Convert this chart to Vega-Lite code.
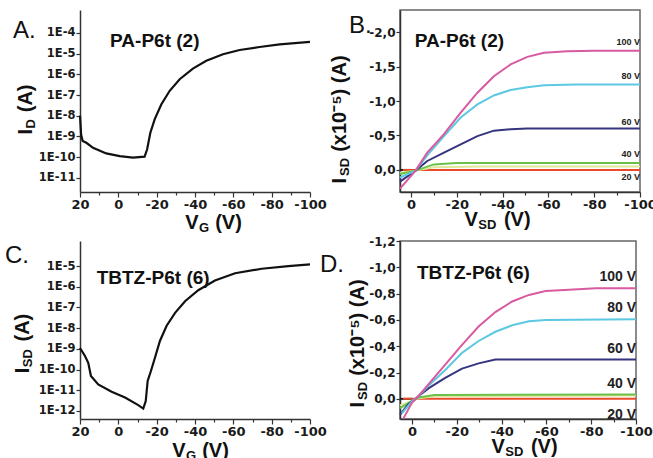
{
 "$schema": "https://vega.github.io/schema/vega-lite/v6.json",
 "background": "white",
 "padding": {"left": 5, "top": 9, "right": 0, "bottom": 0},
 "columns": 2,
 "spacing": {"row": 49, "column": 90},
 "bounds": "flush",
 "align": "each",
 "config": {
  "view": {"stroke": "#666", "strokeWidth": 1.5},
  "axis": {"domainColor": "#333", "domainWidth": 1.5, "tickColor": "#333", "tickWidth": 1.2, "labelFont": "DejaVu Sans", "labelFontWeight": "bold", "labelColor": "#1a1a1a", "labelPadding": 1, "labelFlush": false, "titleFont": "Liberation Sans", "titleFontWeight": "bold", "titleFontSize": 20, "titleColor": "#111", "grid": false, "labelOverlap": false},
  "title": {"font": "Liberation Sans", "fontWeight": "normal", "fontSize": 24, "color": "#111"}
 },
 "datasets": {
  "a": [{"V":20,"I":1.0e-8},{"V":19.4,"I":1.2e-9},{"V":18.6,"I":6.0e-10},{"V":16.7,"I":4.9e-10},{"V":13.2,"I":2.8e-10},{"V":6.3,"I":1.5e-10},{"V":-0.7,"I":1.1e-10},{"V":-7.6,"I":9.3e-11},{"V":-13.7,"I":1.05e-10},{"V":-15,"I":2.3e-10},{"V":-16.7,"I":1.5e-9},{"V":-19,"I":6.8e-9},{"V":-22.4,"I":3.5e-8},{"V":-26.8,"I":1.6e-7},{"V":-32,"I":5.8e-7},{"V":-38.9,"I":1.9e-6},{"V":-45.9,"I":4.5e-6},{"V":-54.6,"I":9.3e-6},{"V":-63.3,"I":1.5e-5},{"V":-73.7,"I":2.1e-5},{"V":-84.2,"I":2.8e-5},{"V":-100,"I":3.7e-5}],
  "c": [{"V":20,"I":1.1e-9},{"V":17.4,"I":4.5e-10},{"V":15.7,"I":2.1e-10},{"V":14.3,"I":4.9e-11},{"V":10.5,"I":1.9e-11},{"V":3.5,"I":8.5e-12},{"V":-3.5,"I":4.4e-12},{"V":-10.4,"I":1.9e-12},{"V":-13,"I":1.3e-12},{"V":-14.3,"I":3.0e-12},{"V":-15.3,"I":2.8e-11},{"V":-17,"I":8.5e-11},{"V":-19.1,"I":3.7e-10},{"V":-21.7,"I":2.4e-9},{"V":-25.2,"I":1.3e-8},{"V":-29.6,"I":5.5e-8},{"V":-34.8,"I":2.0e-7},{"V":-41.7,"I":6.8e-7},{"V":-50.4,"I":2.0e-6},{"V":-60.9,"I":4.5e-6},{"V":-74.8,"I":7.4e-6},{"V":-88.7,"I":1.0e-5},{"V":-100,"I":1.2e-5}],
  "b": [
   {"s":"0 V","V":4.8,"I":0},{"s":"0 V","V":0,"I":0},
   {"s":"20 V","V":3.5,"I":0},{"s":"20 V","V":-100,"I":0},
   {"s":"pale","V":4.8,"I":0.04},{"s":"pale","V":-2,"I":0.01},{"s":"pale","V":-10,"I":-0.04},{"s":"pale","V":-30,"I":-0.05},{"s":"pale","V":-100,"I":-0.05},
   {"s":"40 V","V":4.8,"I":0.06},{"s":"40 V","V":-2,"I":0.01},{"s":"40 V","V":-10,"I":-0.08},{"s":"40 V","V":-20,"I":-0.10},{"s":"40 V","V":-100,"I":-0.10},
   {"s":"60 V","V":4.8,"I":0.17},{"s":"60 V","V":-2,"I":0.01},{"s":"60 V","V":-7.1,"I":-0.13},{"s":"60 V","V":-14.4,"I":-0.25},{"s":"60 V","V":-21.7,"I":-0.37},{"s":"60 V","V":-29,"I":-0.49},{"s":"60 V","V":-36.2,"I":-0.57},{"s":"60 V","V":-43.5,"I":-0.59},{"s":"60 V","V":-50.8,"I":-0.60},{"s":"60 V","V":-100,"I":-0.60},
   {"s":"80 V","V":4.8,"I":0.11},{"s":"80 V","V":-2,"I":0.01},{"s":"80 V","V":-7.1,"I":-0.21},{"s":"80 V","V":-14.4,"I":-0.49},{"s":"80 V","V":-21.7,"I":-0.76},{"s":"80 V","V":-29,"I":-0.95},{"s":"80 V","V":-36.2,"I":-1.08},{"s":"80 V","V":-43.5,"I":-1.16},{"s":"80 V","V":-50.8,"I":-1.20},{"s":"80 V","V":-58.1,"I":-1.23},{"s":"80 V","V":-72.6,"I":-1.24},{"s":"80 V","V":-100,"I":-1.24},
   {"s":"100 V","V":4.8,"I":0.27},{"s":"100 V","V":-2,"I":0.01},{"s":"100 V","V":-7.1,"I":-0.25},{"s":"100 V","V":-14.4,"I":-0.52},{"s":"100 V","V":-21.7,"I":-0.83},{"s":"100 V","V":-29,"I":-1.12},{"s":"100 V","V":-36.2,"I":-1.36},{"s":"100 V","V":-43.5,"I":-1.53},{"s":"100 V","V":-50.8,"I":-1.64},{"s":"100 V","V":-58.1,"I":-1.70},{"s":"100 V","V":-68.3,"I":-1.72},{"s":"100 V","V":-80,"I":-1.73},{"s":"100 V","V":-100,"I":-1.73}
  ],
  "d": [
   {"s":"0 V","V":5.4,"I":0},{"s":"0 V","V":0,"I":0},
   {"s":"20 V","V":4,"I":0},{"s":"20 V","V":-100,"I":0},
   {"s":"pale","V":5.4,"I":0.05},{"s":"pale","V":-2.8,"I":-0.005},{"s":"pale","V":-10,"I":-0.02},{"s":"pale","V":-100,"I":-0.025},
   {"s":"40 V","V":5.4,"I":0.07},{"s":"40 V","V":-2.8,"I":-0.01},{"s":"40 V","V":-10,"I":-0.03},{"s":"40 V","V":-100,"I":-0.033},
   {"s":"60 V","V":5.4,"I":0.12},{"s":"60 V","V":1.7,"I":0.04},{"s":"60 V","V":-2.8,"I":-0.02},{"s":"60 V","V":-7.3,"I":-0.08},{"s":"60 V","V":-14.8,"I":-0.16},{"s":"60 V","V":-22.3,"I":-0.23},{"s":"60 V","V":-29.7,"I":-0.27},{"s":"60 V","V":-37.2,"I":-0.30},{"s":"60 V","V":-100,"I":-0.30},
   {"s":"80 V","V":4.6,"I":0.11},{"s":"80 V","V":0.1,"I":0.02},{"s":"80 V","V":-2.8,"I":-0.02},{"s":"80 V","V":-7.3,"I":-0.10},{"s":"80 V","V":-14.8,"I":-0.22},{"s":"80 V","V":-22.3,"I":-0.35},{"s":"80 V","V":-29.7,"I":-0.44},{"s":"80 V","V":-37.2,"I":-0.51},{"s":"80 V","V":-44.7,"I":-0.56},{"s":"80 V","V":-52.2,"I":-0.59},{"s":"80 V","V":-59.6,"I":-0.60},{"s":"80 V","V":-100,"I":-0.605},
   {"s":"100 V","V":3.9,"I":0.15},{"s":"100 V","V":0.1,"I":0.03},{"s":"100 V","V":-2.8,"I":-0.02},{"s":"100 V","V":-7.3,"I":-0.11},{"s":"100 V","V":-14.8,"I":-0.26},{"s":"100 V","V":-22.3,"I":-0.41},{"s":"100 V","V":-29.7,"I":-0.55},{"s":"100 V","V":-37.2,"I":-0.66},{"s":"100 V","V":-44.7,"I":-0.74},{"s":"100 V","V":-52.2,"I":-0.79},{"s":"100 V","V":-59.6,"I":-0.82},{"s":"100 V","V":-70.1,"I":-0.83},{"s":"100 V","V":-82,"I":-0.84},{"s":"100 V","V":-100,"I":-0.84}
  ],
  "lb": [{"t":"100 V","V":-100,"I":-1.855},{"t":"80 V","V":-100,"I":-1.36},{"t":"60 V","V":-100,"I":-0.70},{"t":"40 V","V":-100,"I":-0.225},{"t":"20 V","V":-100,"I":0.10}],
  "ld": [{"t":"100 V","V":-100,"I":-0.93},{"t":"80 V","V":-100,"I":-0.69},{"t":"60 V","V":-100,"I":-0.38},{"t":"40 V","V":-100,"I":-0.11},{"t":"20 V","V":-100,"I":0.12}],
  "ta": [{"t":"PA-P6t (2)","V":4.3,"I":4.1e-5}],
  "tb": [{"t":"PA-P6t (2)","V":-1.6,"I":-1.87}],
  "tc": [{"t":"TBTZ-P6t (6)","V":11.3,"I":2.5e-6}],
  "td": [{"t":"TBTZ-P6t (6)","V":-2.2,"I":-0.958}]
 },
 "concat": [
  {
   "width": 230, "height": 182,
   "view": {"stroke": null},
   "title": {"text": "A.", "anchor": "start", "frame": "group", "orient": "top", "align": "left", "baseline": "alphabetic", "dx": -67, "offset": -51.5},
   "resolve": {"axis": {"x": "independent", "y": "independent"}},
   "layer": [
    {"data": {"name": "a"}, "mark": {"type": "line", "color": "#111", "strokeWidth": 2.2},
     "encoding": {
      "x": {"field": "V", "type": "quantitative", "scale": {"domain": [-100, 20], "reverse": true, "nice": false, "zero": false},
            "axis": {"values": [20,10,0,-10,-20,-30,-40,-50,-60,-70,-80,-90,-100], "labelOverlap": false, "labelFlush": false, "labelExpr": "datum.value === 0 ? '0' : (datum.value % 20 === 0 ? '' + datum.value : '')", "tickSize": {"condition": {"test": "datum.value % 20 === 0", "value": 5}, "value": 3}, "labelFontSize": 13, "title": "V\u00a0\u00a0\u00a0(V)", "titleX": 133, "titleY": 20}},
      "y": {"field": "I", "type": "quantitative", "scale": {"type": "log", "domain": [2.04e-12, 1.29e-3], "nice": false},
            "axis": {"values": [1e-11,1e-10,1e-9,1e-8,1e-7,1e-6,1e-5,1e-4], "labelOverlap": false, "labelFlush": false, "labelExpr": "'1E' + round(log(datum.value)/LN10)", "labelFontSize": 11.5, "tickSize": 4, "title": "I\u00a0\u00a0\u00a0(A)", "titleX": -45, "titleY": 99}}
     }},
    {"data": {"name": "ta"}, "mark": {"type": "text", "align": "left", "baseline": "middle", "font": "Liberation Sans", "fontWeight": "bold", "fontSize": 19, "color": "#111"},
     "encoding": {
      "x": {"field": "V", "type": "quantitative", "axis": {"orient": "bottom", "domain": false, "ticks": false, "labels": false, "title": "G", "titleFontSize": 13, "titleX": 123.5, "titleY": 29.5}},
      "y": {"field": "I", "type": "quantitative", "axis": {"orient": "left", "domain": false, "ticks": false, "labels": false, "title": "D", "titleFontSize": 13, "titleX": -42.5, "titleY": 113.3}},
      "text": {"field": "t"}}}
   ]
  },
  {
   "width": 240, "height": 182,
   "title": {"text": "B.", "anchor": "start", "frame": "group", "orient": "top", "align": "left", "baseline": "alphabetic", "dx": -51, "offset": -46.5},
   "resolve": {"axis": {"x": "independent", "y": "independent"}},
   "layer": [
    {"data": {"name": "b"}, "mark": {"type": "line", "strokeWidth": 2},
     "encoding": {
      "x": {"field": "V", "type": "quantitative", "scale": {"domain": [-100, 4.8], "reverse": true, "nice": false, "zero": false},
            "axis": {"values": [0,-10,-20,-30,-40,-50,-60,-70,-80,-90,-100], "labelOverlap": false, "labelFlush": false, "labelExpr": "datum.value === 0 ? '0' : (datum.value % 20 === 0 ? '' + datum.value : '')", "tickSize": {"condition": {"test": "datum.value % 20 === 0", "value": 5}, "value": 3}, "labelFontSize": 13, "title": "V\u00a0\u00a0\u00a0\u00a0\u2009(V)", "titleX": 97, "titleY": 17}},
      "y": {"field": "I", "type": "quantitative", "scale": {"domain": [-2.32, 0.32], "reverse": true, "nice": false, "zero": false},
            "axis": {"values": [-2,-1.5,-1,-0.5,0], "labelOverlap": false, "labelFlush": false, "labelExpr": "(datum.value < 0 ? '-' : '') + replace(format(abs(datum.value), '.1f'), '.', ',')", "labelFontSize": 12, "tickSize": 4, "title": "I\u00a0\u00a0\u00a0\u00a0\u2009(x10⁻⁵) (A)", "titleX": -51, "titleY": 109}},
      "color": {"field": "s", "type": "nominal", "legend": null, "scale": {"domain": ["0 V","20 V","pale","40 V","60 V","80 V","100 V"], "range": ["#222222","#e84a2a","#dfe79a","#6cc04a","#34357e","#5cc8e2","#d85aa0"]}}
     }},
    {"data": {"name": "lb"}, "mark": {"type": "text", "align": "right", "baseline": "middle", "font": "Liberation Sans", "fontWeight": "bold", "fontSize": 9, "color": "#222"},
     "encoding": {"x": {"field": "V", "type": "quantitative", "axis": null}, "y": {"field": "I", "type": "quantitative", "axis": null}, "text": {"field": "t"}}},
    {"data": {"name": "tb"}, "mark": {"type": "text", "align": "left", "baseline": "middle", "font": "Liberation Sans", "fontWeight": "bold", "fontSize": 19, "color": "#111"},
     "encoding": {
      "x": {"field": "V", "type": "quantitative", "axis": {"orient": "bottom", "domain": false, "ticks": false, "labels": false, "title": "SD", "titleFontSize": 13, "titleX": 86.8, "titleY": 26.5}},
      "y": {"field": "I", "type": "quantitative", "axis": {"orient": "left", "domain": false, "ticks": false, "labels": false, "title": "SD", "titleFontSize": 13, "titleX": -48.5, "titleY": 156.5}},
      "text": {"field": "t"}}}
   ]
  },
  {
   "width": 230, "height": 178,
   "view": {"stroke": null},
   "title": {"text": "C.", "anchor": "start", "frame": "group", "orient": "top", "align": "left", "baseline": "alphabetic", "dx": -75, "offset": -45.5},
   "resolve": {"axis": {"x": "independent", "y": "independent"}},
   "layer": [
    {"data": {"name": "c"}, "mark": {"type": "line", "color": "#111", "strokeWidth": 2.2},
     "encoding": {
      "x": {"field": "V", "type": "quantitative", "scale": {"domain": [-100, 20], "reverse": true, "nice": false, "zero": false},
            "axis": {"values": [20,10,0,-10,-20,-30,-40,-50,-60,-70,-80,-90,-100], "labelOverlap": false, "labelFlush": false, "labelExpr": "datum.value === 0 ? '0' : (datum.value % 20 === 0 ? '' + datum.value : '')", "tickSize": {"condition": {"test": "datum.value % 20 === 0", "value": 5}, "value": 3}, "labelFontSize": 13, "title": "V\u00a0\u00a0\u00a0(V)", "titleX": 120, "titleY": 21}},
      "y": {"field": "I", "type": "quantitative", "scale": {"type": "log", "domain": [4.07e-13, 1.62e-4], "nice": false},
            "axis": {"values": [1e-12,1e-11,1e-10,1e-9,1e-8,1e-7,1e-6,1e-5], "labelOverlap": false, "labelFlush": false, "labelExpr": "'1E' + round(log(datum.value)/LN10)", "labelFontSize": 11.5, "tickSize": 4, "title": "I\u00a0\u00a0\u00a0\u00a0\u2009(A)", "titleX": -48, "titleY": 102}}
     }},
    {"data": {"name": "tc"}, "mark": {"type": "text", "align": "left", "baseline": "middle", "font": "Liberation Sans", "fontWeight": "bold", "fontSize": 19, "color": "#111"},
     "encoding": {
      "x": {"field": "V", "type": "quantitative", "axis": {"orient": "bottom", "domain": false, "ticks": false, "labels": false, "title": "G", "titleFontSize": 13, "titleX": 110.5, "titleY": 30.5}},
      "y": {"field": "I", "type": "quantitative", "axis": {"orient": "left", "domain": false, "ticks": false, "labels": false, "title": "SD", "titleFontSize": 13, "titleX": -45.5, "titleY": 116.7}},
      "text": {"field": "t"}}}
   ]
  },
  {
   "width": 236, "height": 178,
   "title": {"text": "D.", "anchor": "start", "frame": "group", "orient": "top", "align": "left", "baseline": "alphabetic", "dx": -80, "offset": -60.5},
   "resolve": {"axis": {"x": "independent", "y": "independent"}},
   "layer": [
    {"data": {"name": "d"}, "mark": {"type": "line", "strokeWidth": 2},
     "encoding": {
      "x": {"field": "V", "type": "quantitative", "scale": {"domain": [-100, 5.4], "reverse": true, "nice": false, "zero": false},
            "axis": {"values": [0,-10,-20,-30,-40,-50,-60,-70,-80,-90,-100], "labelOverlap": false, "labelFlush": false, "labelExpr": "datum.value === 0 ? '0' : (datum.value % 20 === 0 ? '' + datum.value : '')", "tickSize": {"condition": {"test": "datum.value % 20 === 0", "value": 5}, "value": 3}, "labelFontSize": 13, "title": "V\u00a0\u00a0\u00a0\u00a0\u2009(V)", "titleX": 124, "titleY": 17}},
      "y": {"field": "I", "type": "quantitative", "scale": {"domain": [-1.2, 0.153], "reverse": true, "nice": false, "zero": false},
            "axis": {"values": [-1.2,-1,-0.8,-0.6,-0.4,-0.2,0], "labelOverlap": false, "labelFlush": false, "labelExpr": "(datum.value < 0 ? '-' : '') + replace(format(abs(datum.value), '.1f'), '.', ',')", "labelFontSize": 12, "tickSize": 4, "title": "I\u00a0\u00a0\u00a0\u00a0\u2009(x10⁻⁵) (A)", "titleX": -33, "titleY": 102}},
      "color": {"field": "s", "type": "nominal", "legend": null, "scale": {"domain": ["0 V","20 V","pale","40 V","60 V","80 V","100 V"], "range": ["#222222","#e84a2a","#dfe79a","#6cc04a","#34357e","#5cc8e2","#d85aa0"]}}
     }},
    {"data": {"name": "ld"}, "mark": {"type": "text", "align": "right", "baseline": "middle", "font": "Liberation Sans", "fontWeight": "bold", "fontSize": 14, "color": "#222"},
     "encoding": {"x": {"field": "V", "type": "quantitative", "axis": null}, "y": {"field": "I", "type": "quantitative", "axis": null}, "text": {"field": "t"}}},
    {"data": {"name": "td"}, "mark": {"type": "text", "align": "left", "baseline": "middle", "font": "Liberation Sans", "fontWeight": "bold", "fontSize": 19, "color": "#111"},
     "encoding": {
      "x": {"field": "V", "type": "quantitative", "axis": {"orient": "bottom", "domain": false, "ticks": false, "labels": false, "title": "SD", "titleFontSize": 13, "titleX": 113.8, "titleY": 26.5}},
      "y": {"field": "I", "type": "quantitative", "axis": {"orient": "left", "domain": false, "ticks": false, "labels": false, "title": "SD", "titleFontSize": 13, "titleX": -30.5, "titleY": 149.5}},
      "text": {"field": "t"}}}
   ]
  }
 ]
}
